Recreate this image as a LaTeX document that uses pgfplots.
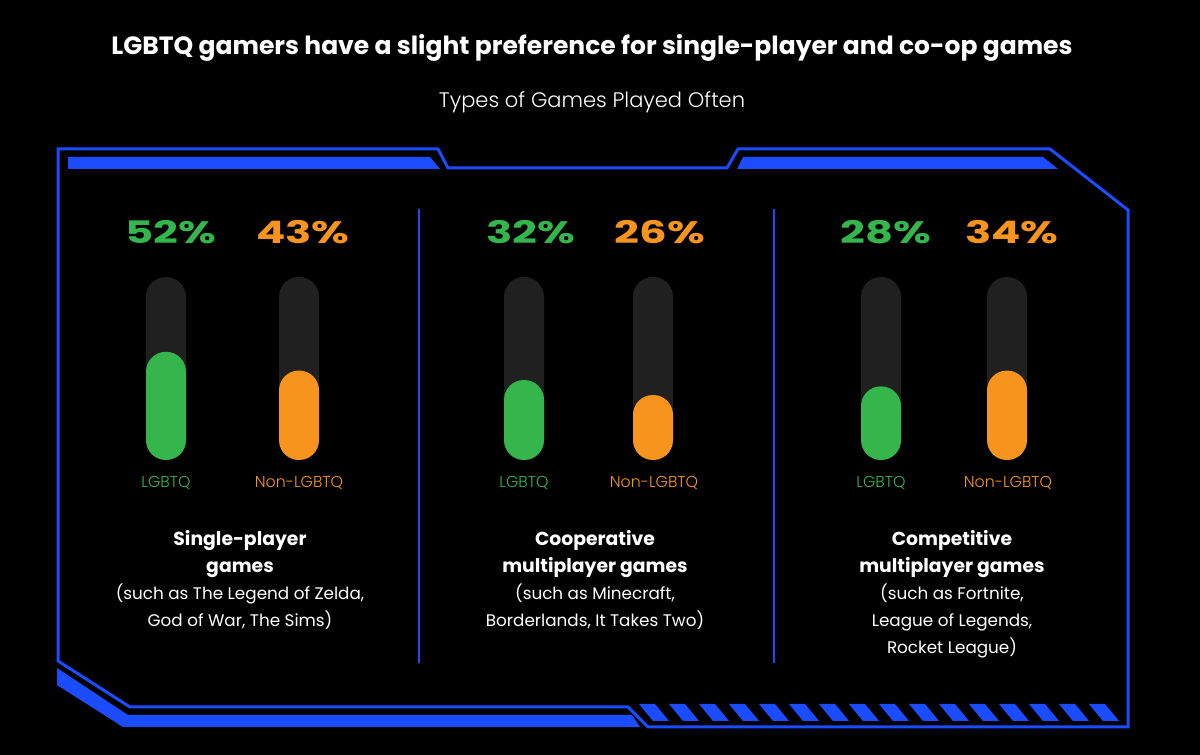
\documentclass[border=0pt]{standalone}
\usepackage{pgfplots}
\pgfplotsset{compat=1.18}
\usepackage{fontspec}
\setmainfont{Poppins}
\newfontfamily\lightfont{Poppins Light}
\definecolor{fblue}{RGB}{28,76,255}
\definecolor{pgreen}{RGB}{52,182,76}
\definecolor{porange}{RGB}{247,148,30}
\definecolor{trackc}{RGB}{32,32,32}
\pgfplotsset{
  baraxis/.style={at={(0pt,147.5pt)}, anchor=origin, x=0.5pt, y=#1,
    xmin=0, xmax=1200, ymin=0, ymax=100, axis lines=none, clip=false,
    ybar, bar width=20pt},
  pill/.style={draw=none, fill=#1, bar shift=0pt, rounded corners=9.9pt}
}
\begin{document}
\begin{tikzpicture}
\begin{axis}[at={(0pt,0pt)}, anchor=origin, x=0.5pt, y=0.5pt,
  xmin=0, xmax=1200, ymin=0, ymax=755, axis lines=none, clip=false]
\fill[black] (0,0) rectangle (1200,755);
% frame
\draw[fblue, line width=1.5pt, line join=miter]
  (58,94) -- (58,606) -- (438,606) -- (448,587) -- (727,587) -- (738,606)
  -- (1050,606) -- (1128,545) -- (1128,28) -- (648,28) -- (628,48)
  -- (130,48) -- cycle;
\fill[fblue] (68,598) -- (430,598) -- (440,586) -- (68,586) -- cycle;
\fill[fblue] (743,598) -- (1043,598) -- (1058,586) -- (737,586) -- cycle;
\fill[fblue] (57,87) -- (128,40) -- (632,40) -- (640,28) -- (123,28) -- (57,70) -- cycle;
\pgfplotsinvokeforeach{0,...,15}{
  \fill[fblue] ({639+30*#1},51) -- ({655+30*#1},51) -- ({669+30*#1},34) -- ({653+30*#1},34) -- cycle;
}
\draw[fblue, line width=1pt] (419,92) -- (419,546);
\draw[fblue, line width=1pt] (774,92) -- (774,546);
% tracks
\fill[trackc, rounded corners=9.9pt] (146,295) rectangle (186,478);
\fill[trackc, rounded corners=9.9pt] (279,295) rectangle (319,478);
\fill[trackc, rounded corners=9.9pt] (504,295) rectangle (544,478);
\fill[trackc, rounded corners=9.9pt] (633,295) rectangle (673,478);
\fill[trackc, rounded corners=9.9pt] (861,295) rectangle (901,478);
\fill[trackc, rounded corners=9.9pt] (987,295) rectangle (1027,478);
% titles
\node[white, font=\fontsize{12.5}{15}\selectfont\bfseries] at (592,707)
  {LGBTQ gamers have a slight preference for single-player and co-op games};
\node[white, font=\fontsize{10.5}{13}\lightfont] at (592,653) {Types of Games Played Often};
% percentages
\tikzset{pct/.style={font=\fontsize{15.5}{18}\selectfont\bfseries}}
\node[pct, pgreen] at (171,523) {\scalebox{1.4}[1]{52\%}};
\node[pct, porange] at (303,523) {\scalebox{1.4}[1]{43\%}};
\node[pct, pgreen] at (531,523) {\scalebox{1.4}[1]{32\%}};
\node[pct, porange] at (660,523) {\scalebox{1.4}[1]{26\%}};
\node[pct, pgreen] at (886,523) {\scalebox{1.4}[1]{28\%}};
\node[pct, porange] at (1012,523) {\scalebox{1.4}[1]{34\%}};
% bar labels
\tikzset{bl/.style={font=\fontsize{7.9}{9}\lightfont}}
\node[bl, pgreen] at (166,272) {LGBTQ};
\node[bl, porange] at (299,272) {Non-LGBTQ};
\node[bl, pgreen] at (524,272) {LGBTQ};
\node[bl, porange] at (654,272) {Non-LGBTQ};
\node[bl, pgreen] at (881,272) {LGBTQ};
\node[bl, porange] at (1008,272) {Non-LGBTQ};
% group descriptions
\tikzset{gd/.style={white, align=center, anchor=north, inner sep=0pt,
  font=\fontsize{8.4}{13.5}\selectfont}}
\newcommand\bl[1]{{\fontsize{9.4}{13.5}\selectfont\bfseries #1}}
\node[gd] at (240,225) {\bl{Single-player}\\\bl{games}\\(such as The Legend of Zelda,\\God of War, The Sims)};
\node[gd] at (595,225) {\bl{Cooperative}\\\bl{multiplayer games}\\(such as Minecraft,\\Borderlands, It Takes Two)};
\node[gd] at (952,225) {\bl{Competitive}\\\bl{multiplayer games}\\(such as Fortnite,\\League of Legends,\\Rocket League)};
\end{axis}
% group 1 bars
\begin{axis}[baraxis=1.04pt]
\addplot[pill=pgreen] coordinates {(166,52)};
\addplot[pill=porange] coordinates {(299,43)};
\end{axis}
% group 2 bars
\begin{axis}[baraxis=1.25pt]
\addplot[pill=pgreen] coordinates {(524,32)};
\addplot[pill=porange] coordinates {(653,26)};
\end{axis}
% group 3 bars
\begin{axis}[baraxis=1.315pt]
\addplot[pill=pgreen] coordinates {(881,28)};
\addplot[pill=porange] coordinates {(1007,34)};
\end{axis}
\end{tikzpicture}
\end{document}
